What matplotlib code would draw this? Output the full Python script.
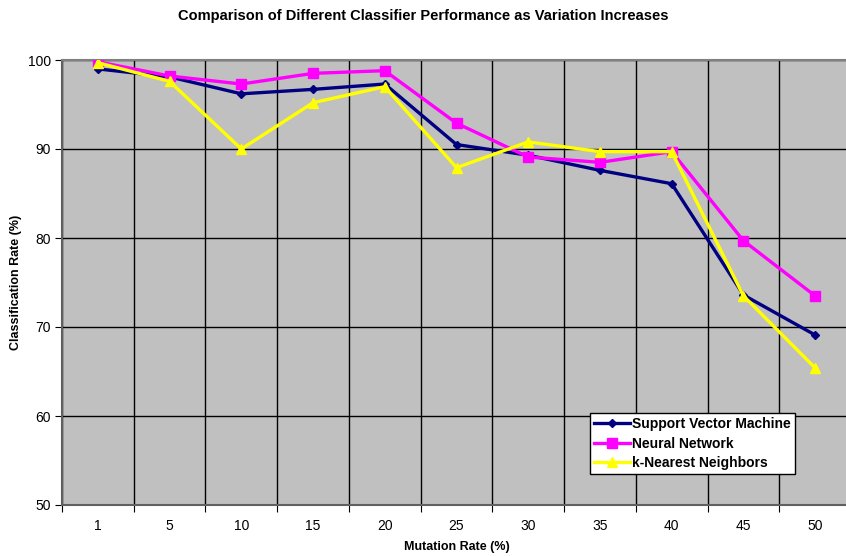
import matplotlib

matplotlib.use("Agg")
import matplotlib.pyplot as plt
import numpy as np

plt.rcParams["font.family"] = ["Liberation Sans", "DejaVu Sans"]

mutation_rates = ["1", "5", "10", "15", "20", "25", "30", "35", "40", "45", "50"]
svm = [99.0, 98.1, 96.2, 96.7, 97.3, 90.5, 89.3, 87.6, 86.1, 73.6, 69.1]
neural_net = [99.8, 98.2, 97.3, 98.5, 98.8, 92.9, 89.1, 88.5, 89.7, 79.7, 73.5]
knn = [99.7, 97.6, 90.0, 95.2, 97.0, 87.9, 90.8, 89.7, 89.7, 73.5, 65.4]

fig = plt.figure(figsize=(8.46, 5.56), dpi=100)
ax = fig.add_axes([62 / 846, 1 - 505 / 556, (851 - 62) / 846, 445 / 556])
ax.set_facecolor("#c0c0c0")

x = np.arange(len(mutation_rates))
ax.plot(x, svm, color="#000080", lw=2.4, marker="D", ms=4.5, label="Support Vector Machine", zorder=3)
ax.plot(x, neural_net, color="#ff00ff", lw=2.4, marker="s", ms=7, label="Neural Network", zorder=3)
ax.plot(x, knn, color="#ffff00", lw=2.4, marker="^", ms=7, label="k-Nearest Neighbors", zorder=4)

ax.set_xlim(-0.5, len(x) - 0.5)
ax.set_ylim(50, 100)
ax.set_yticks(range(50, 101, 10))
ax.set_xticks(np.arange(len(x) + 1) - 0.5)
ax.set_xticklabels([])
ax.set_xticks(x, minor=True)
ax.set_xticklabels(mutation_rates, minor=True)
ax.tick_params(axis="x", which="major", length=5, direction="out", color="black")
ax.tick_params(axis="x", which="minor", length=0, pad=10, labelsize=10)
ax.tick_params(axis="y", length=5, direction="out", labelsize=10, pad=3)
ax.grid(True, which="major", color="black", lw=1.0)
ax.set_axisbelow(True)
for s in ["top", "right"]:
    ax.spines[s].set_color("#808080")
    ax.spines[s].set_linewidth(1.5)
for s in ["left", "bottom"]:
    ax.spines[s].set_color("#606060")
    ax.spines[s].set_linewidth(1.5)

ax.set_xlabel("Mutation Rate (%)", fontsize=9, fontweight="bold", labelpad=6)
fig.text(16 / 846, 1 - 282 / 556, "Classification Rate (%)", rotation=90,
         ha="center", va="center", fontsize=9, fontweight="bold")
fig.text(423 / 846, 1 - 16 / 556, "Comparison of Different Classifier Performance as Variation Increases",
         ha="center", va="center", fontsize=10.5, fontweight="bold")

leg = ax.legend(loc="upper left", bbox_to_anchor=((590 - 62) / 789, (505 - 413) / 445),
                prop={"size": 10, "weight": "bold"}, frameon=True, fancybox=False,
                edgecolor="black", framealpha=1, borderpad=0.3, handlelength=2.6,
                handletextpad=0.15, labelspacing=0.4, borderaxespad=0)
leg.get_frame().set_linewidth(1.0)

fig.savefig("out.png", dpi=100)
